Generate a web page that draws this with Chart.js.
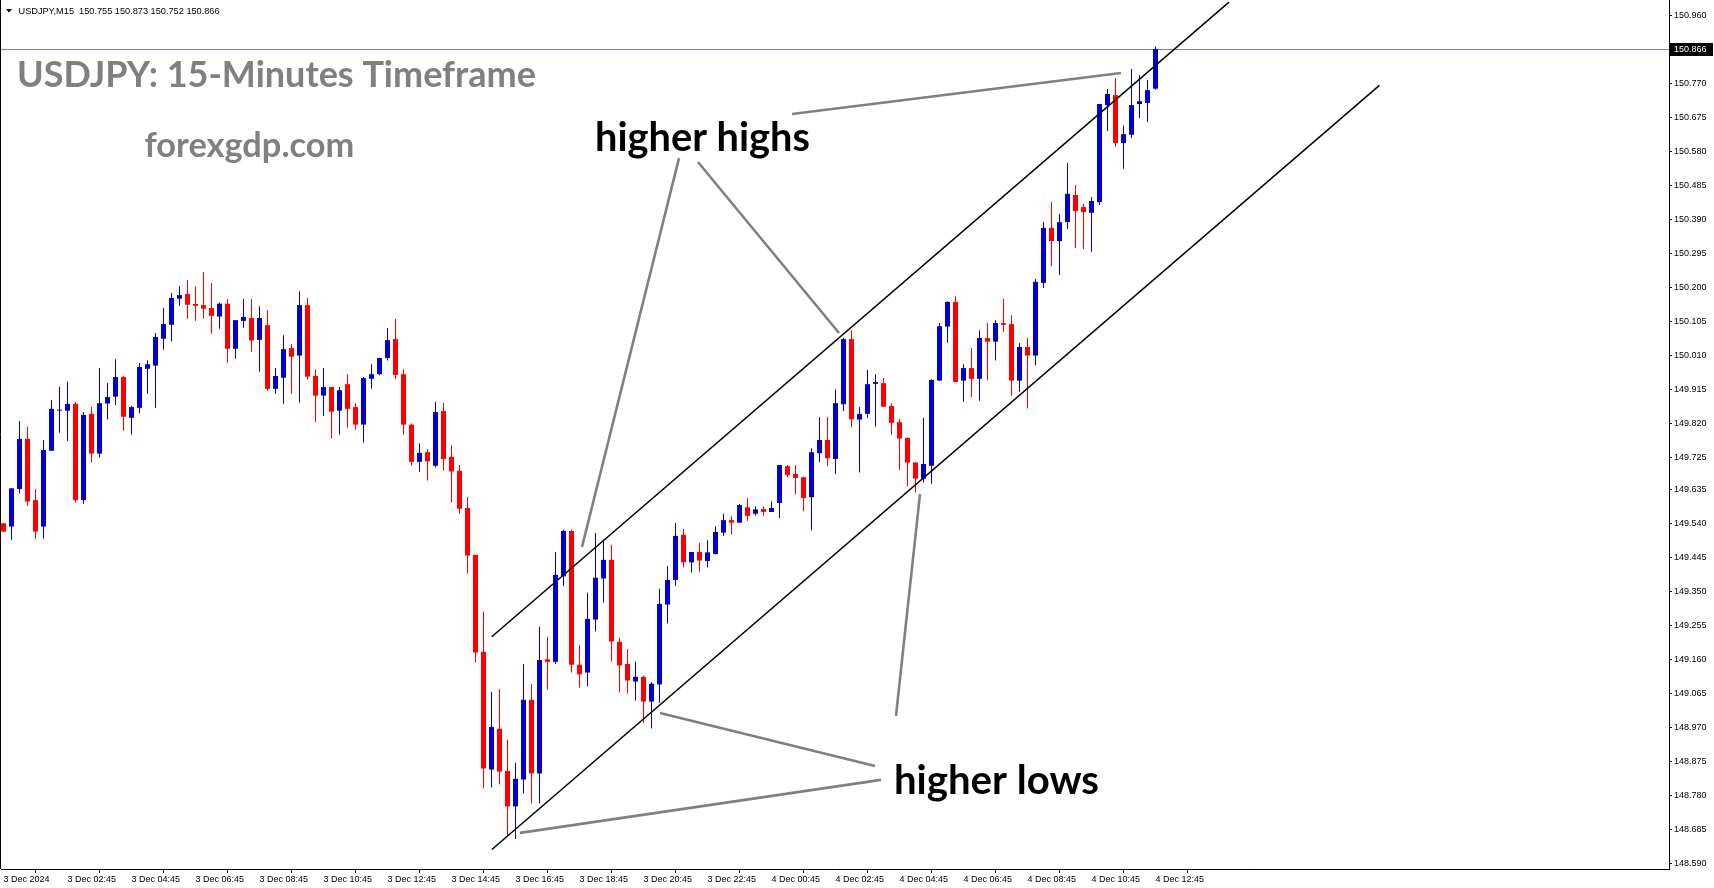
<!DOCTYPE html>
<html><head><meta charset="utf-8">
<script src="https://cdn.jsdelivr.net/npm/chart.js@4.4.1/dist/chart.umd.min.js"></script>
<style>html,body{margin:0;padding:0;background:#fff;overflow:hidden}canvas{display:block}</style>
</head><body>
<canvas id="c" width="1714" height="888"></canvas>
<script>
// ---------------- DATA ----------------
const symbolName = "USDJPY,M15";
const chartTitle = "USDJPY: 15-Minutes Timeframe";
const siteName = "forexgdp.com";

const opens = [149.540,149.531,149.636,149.776,149.605,149.531,149.743,149.855,149.855,149.874,149.605,149.846,149.735,149.875,149.894,149.949,149.835,149.863,149.972,149.981,150.056,150.095,150.168,150.181,150.153,150.150,150.142,150.118,150.154,150.028,150.106,150.114,150.053,150.094,149.916,149.947,150.030,150.009,150.150,149.952,149.897,149.921,149.855,149.929,149.865,149.816,149.944,149.957,150.002,150.055,149.957,149.816,149.712,149.739,149.701,149.854,149.726,149.687,149.583,149.452,149.181,148.852,148.966,148.848,148.749,148.824,149.047,148.841,149.160,149.153,149.392,149.519,149.145,149.123,149.271,149.386,149.438,149.209,149.147,149.098,149.111,149.042,149.090,149.313,149.382,149.508,149.431,149.460,149.435,149.454,149.514,149.549,149.542,149.585,149.567,149.580,149.572,149.597,149.700,149.678,149.669,149.613,149.736,149.773,149.720,149.873,150.055,149.830,149.846,149.930,149.932,149.868,149.823,149.779,149.710,149.665,149.701,149.939,150.090,150.159,149.939,149.974,149.944,150.058,150.048,150.100,150.097,149.939,150.033,150.009,150.212,150.366,150.329,150.382,150.458,150.424,150.408,150.438,150.709,150.737,150.603,150.626,150.712,150.715,150.755];
const highs = [149.541,149.638,149.826,149.810,149.636,149.773,149.885,149.922,149.936,149.879,149.851,149.865,149.974,149.932,149.999,149.952,149.868,149.988,149.996,150.072,150.142,150.184,150.203,150.220,150.203,150.242,150.212,150.157,150.167,150.108,150.167,150.167,150.147,150.136,149.974,150.066,150.041,150.189,150.170,149.971,149.974,149.921,149.921,149.957,149.876,149.949,149.985,150.003,150.086,150.111,149.971,149.819,149.763,149.748,149.880,149.877,149.759,149.703,149.614,149.452,149.293,149.069,149.077,148.935,148.871,149.147,149.091,149.251,149.223,149.460,149.522,149.522,149.200,149.346,149.513,149.494,149.480,149.220,149.189,149.153,149.114,149.097,149.357,149.421,149.541,149.525,149.460,149.486,149.493,149.532,149.566,149.560,149.594,149.611,149.588,149.588,149.602,149.703,149.703,149.703,149.669,149.750,149.837,149.837,149.915,150.058,150.080,149.865,149.969,149.957,149.946,149.876,149.832,149.779,149.712,149.835,149.943,150.100,150.161,150.175,149.985,150.030,150.080,150.100,150.108,150.168,150.122,150.044,150.058,150.223,150.382,150.438,150.405,150.547,150.486,150.433,150.452,150.712,150.754,150.785,150.651,150.810,150.793,150.779,150.873];
const lows = [149.516,149.494,149.624,149.589,149.497,149.497,149.743,149.793,149.770,149.598,149.595,149.710,149.724,149.830,149.871,149.799,149.788,149.847,149.902,149.863,150.025,150.048,150.148,150.112,150.106,150.112,150.070,150.084,149.989,150.000,150.087,150.020,149.964,149.911,149.902,149.874,149.902,149.877,149.942,149.823,149.841,149.777,149.788,149.807,149.802,149.765,149.916,149.954,149.995,149.943,149.788,149.701,149.684,149.660,149.696,149.687,149.598,149.567,149.400,149.151,148.799,148.802,148.810,148.665,148.658,148.785,148.757,148.757,149.075,149.147,149.365,149.123,149.081,149.084,149.238,149.319,149.154,149.067,149.064,149.045,148.983,148.967,149.039,149.260,149.366,149.417,149.403,149.405,149.417,149.454,149.505,149.508,149.542,149.547,149.561,149.561,149.572,149.555,149.669,149.622,149.574,149.521,149.711,149.700,149.678,149.854,149.809,149.682,149.835,149.810,149.866,149.788,149.689,149.644,149.626,149.654,149.651,149.939,150.045,149.935,149.880,149.893,149.883,149.939,149.995,150.075,149.897,149.908,149.861,149.981,150.198,150.259,150.234,150.363,150.310,150.307,150.299,150.430,150.637,150.592,150.531,150.617,150.673,150.662,150.752];
const closes = [149.517,149.638,149.776,149.601,149.517,149.745,149.860,149.857,149.874,149.605,149.843,149.735,149.876,149.893,149.949,149.838,149.865,149.977,149.985,150.061,150.097,150.170,150.178,150.151,150.148,150.140,150.120,150.154,150.028,150.108,150.117,150.051,150.114,149.916,149.952,150.027,150.006,150.150,149.950,149.897,149.921,149.852,149.912,149.860,149.816,149.946,149.957,150.002,150.052,149.955,149.816,149.712,149.737,149.713,149.851,149.720,149.685,149.581,149.450,149.179,148.855,148.971,148.846,148.749,148.826,149.047,148.841,149.158,149.153,149.396,149.519,149.145,149.118,149.273,149.388,149.438,149.210,149.143,149.101,149.111,149.042,149.092,149.315,149.382,149.505,149.431,149.460,149.436,149.459,149.516,149.549,149.542,149.591,149.561,149.579,149.572,149.583,149.703,149.675,149.667,149.611,149.739,149.773,149.722,149.876,150.055,149.831,149.846,149.929,149.935,149.866,149.821,149.777,149.710,149.665,149.706,149.941,150.091,150.159,149.935,149.974,149.944,150.058,150.048,150.100,150.095,149.939,150.033,150.009,150.215,150.366,150.329,150.382,150.461,150.413,150.410,150.441,150.712,150.740,150.603,150.628,150.709,150.720,150.751,150.866];

const xTickLabels = ["3 Dec 2024","3 Dec 02:45","3 Dec 04:45","3 Dec 06:45","3 Dec 08:45","3 Dec 10:45","3 Dec 12:45","3 Dec 14:45","3 Dec 16:45","3 Dec 18:45","3 Dec 20:45","3 Dec 22:45","4 Dec 00:45","4 Dec 02:45","4 Dec 04:45","4 Dec 06:45","4 Dec 08:45","4 Dec 10:45","4 Dec 12:45"];
const barsPerXTick = 8;
const yTickLabels = ["150.960","150.770","150.675","150.580","150.485","150.390","150.295","150.200","150.105","150.010","149.915","149.820","149.725","149.635","149.540","149.445","149.350","149.255","149.160","149.065","148.970","148.875","148.780","148.685","148.590"];

// channel lines and pointer lines in (bar index, price)
const channelUpper = [[61.03,149.223],[153.19,150.997]];
const channelLower = [[61.05,148.6285],[171.99,150.764]];
const pointerLines = [
  [[84.44,150.561],[72.31,149.474]],
  [[86.81,150.550],[104.44,150.072]],
  [[98.56,150.684],[139.69,150.799]],
  [[82.06,149.010],[108.94,148.862]],
  [[64.56,148.675],[109.69,148.823]],
  [[111.56,149.002],[114.56,149.622]]
];
const noteLabels = [
  {text:"higher highs", at:[73.94,150.581]},
  {text:"higher lows", at:[111.31,148.784]}
];

// ---------------- CHART ----------------
const BLUE = '#0000cc', RED = '#ff0000';
const idx = opens.map((_, i) => i);
const isBull = idx.map(i => closes[i] >= opens[i]);
const candleColor = c => isBull[c.dataIndex] ? BLUE : RED;
const currentPrice = closes[closes.length - 1];
const AXFONT = {family: '"Liberation Sans", Arial, sans-serif', size: 9};

function fitText(ctx, text, x, y, width, color, family, weight) {
  ctx.font = `${weight} 100px ${family}`;
  const w = ctx.measureText(text).width;
  const size = 100 * width / w;
  ctx.font = `${weight} ${size}px ${family}`;
  ctx.fillStyle = color;
  ctx.textAlign = 'left';
  ctx.textBaseline = 'alphabetic';
  ctx.fillText(text, x, y);
}
function noPad(s) { s.paddingTop = 0; s.paddingBottom = 0; s.paddingLeft = 0; s.paddingRight = 0; }

const annot = {
  id: 'annot',
  beforeDatasetsDraw(chart) {
    const {ctx, chartArea: a, scales: {y}} = chart;
    ctx.save();
    ctx.strokeStyle = '#778899'; ctx.lineWidth = 1;
    const py = Math.round(y.getPixelForValue(currentPrice)) + 0.5;
    ctx.beginPath(); ctx.moveTo(a.left, py); ctx.lineTo(a.right, py); ctx.stroke();
    ctx.restore();
  },
  afterDatasetsDraw(chart) {
    const {ctx, chartArea: a, scales: {x, y}} = chart;
    const P = p => [x.getPixelForValue(p[0]), y.getPixelForValue(p[1])];
    ctx.save();
    ctx.beginPath(); ctx.rect(a.left, a.top, a.right - a.left, a.bottom - a.top); ctx.clip();
    ctx.strokeStyle = '#000'; ctx.lineWidth = 1.5;
    [channelUpper, channelLower].forEach(l => {
      const p0 = P(l[0]), p1 = P(l[1]);
      ctx.beginPath(); ctx.moveTo(p0[0], p0[1]); ctx.lineTo(p1[0], p1[1]); ctx.stroke();
    });
    ctx.strokeStyle = '#808080'; ctx.lineWidth = 2.6; ctx.lineCap = 'butt';
    pointerLines.forEach(l => {
      const p0 = P(l[0]), p1 = P(l[1]);
      ctx.beginPath(); ctx.moveTo(p0[0], p0[1]); ctx.lineTo(p1[0], p1[1]); ctx.stroke();
    });
    const fam = 'Lato, "Open Sans", sans-serif';
    fitText(ctx, noteLabels[0].text, ...P(noteLabels[0].at), 215, '#000', fam, 'bold');
    fitText(ctx, noteLabels[1].text, ...P(noteLabels[1].at), 205, '#000', fam, 'bold');
    fitText(ctx, chartTitle, a.left + 16, 87, 519, '#808080', fam, 'bold');
    fitText(ctx, siteName, a.left + 143.5, 157, 210, '#808080', fam, 'bold');
    ctx.restore();
  },
  afterDraw(chart) {
    const {ctx, chartArea: a, scales: {y}} = chart;
    ctx.save();
    ctx.strokeStyle = '#000'; ctx.lineWidth = 1;
    ctx.beginPath(); ctx.moveTo(0.5, 0); ctx.lineTo(0.5, a.bottom); ctx.stroke();
    const py = Math.round(y.getPixelForValue(currentPrice)) + 0.5;
    ctx.fillStyle = '#000';
    ctx.fillRect(a.right, py - 6.5, 44, 13);
    ctx.fillStyle = '#fff';
    ctx.font = `9px ${AXFONT.family}`;
    ctx.textAlign = 'left'; ctx.textBaseline = 'middle';
    ctx.fillText(currentPrice.toFixed(3), a.right + 5, py + 0.5);
    ctx.fillStyle = '#000';
    ctx.beginPath(); ctx.moveTo(6, 9); ctx.lineTo(12, 9); ctx.lineTo(9, 12.5); ctx.closePath(); ctx.fill();
    const last = opens.length - 1;
    ctx.font = `9.2px ${AXFONT.family}`;
    ctx.textBaseline = 'middle';
    ctx.fillText(`${symbolName}  ${opens[last].toFixed(3)} ${highs[last].toFixed(3)} ${lows[last].toFixed(3)} ${closes[last].toFixed(3)}`, 18.5, 11);
    ctx.restore();
  }
};

new Chart(document.getElementById('c'), {
  type: 'bar',
  data: {
    datasets: [
      {label: 'wick', data: idx.map(i => ({x: i, y: [lows[i], highs[i]]})),
       backgroundColor: candleColor, barThickness: 1, grouped: false, order: 2,
       inflateAmount: 0, borderWidth: 0, minBarLength: 1},
      {label: 'body', data: idx.map(i => ({x: i, y: [Math.min(opens[i], closes[i]), Math.max(opens[i], closes[i])]})),
       backgroundColor: candleColor, barThickness: 5, grouped: false, order: 1,
       inflateAmount: 0, borderWidth: 0, minBarLength: 1}
    ]
  },
  options: {
    responsive: false, animation: false, devicePixelRatio: 1,
    layout: {padding: {left: 1, top: 0, right: 0, bottom: 0}},
    plugins: {legend: {display: false}, tooltip: {enabled: false}, title: {display: false}},
    scales: {
      x: {
        type: 'linear', min: -0.3125, max: 208.1875, offset: false,
        grid: {display: true, drawOnChartArea: false, drawTicks: true, tickLength: 4, color: '#000'},
        border: {display: true, color: '#000', width: 1},
        ticks: {autoSkip: false, maxRotation: 0, minRotation: 0, align: 'start', padding: 1,
                font: AXFONT, color: '#000', callback: (v, i) => xTickLabels[i]},
        afterBuildTicks: s => { s.ticks = xTickLabels.map((_, i) => ({value: i * barsPerXTick})); },
        afterFit: s => { s.height = 19; noPad(s); }
      },
      y: {
        position: 'right', min: 148.574, max: 151.0028,
        grid: {display: true, drawOnChartArea: false, drawTicks: true, tickLength: 3, color: '#000'},
        border: {display: true, color: '#000', width: 1},
        ticks: {autoSkip: false, padding: 2, font: AXFONT, color: '#000', callback: (v, i) => yTickLabels[i]},
        afterBuildTicks: s => { s.ticks = yTickLabels.map(t => ({value: parseFloat(t)})); },
        afterFit: s => { s.width = 45; noPad(s); }
      }
    }
  },
  plugins: [annot]
});
</script>
</body></html>
